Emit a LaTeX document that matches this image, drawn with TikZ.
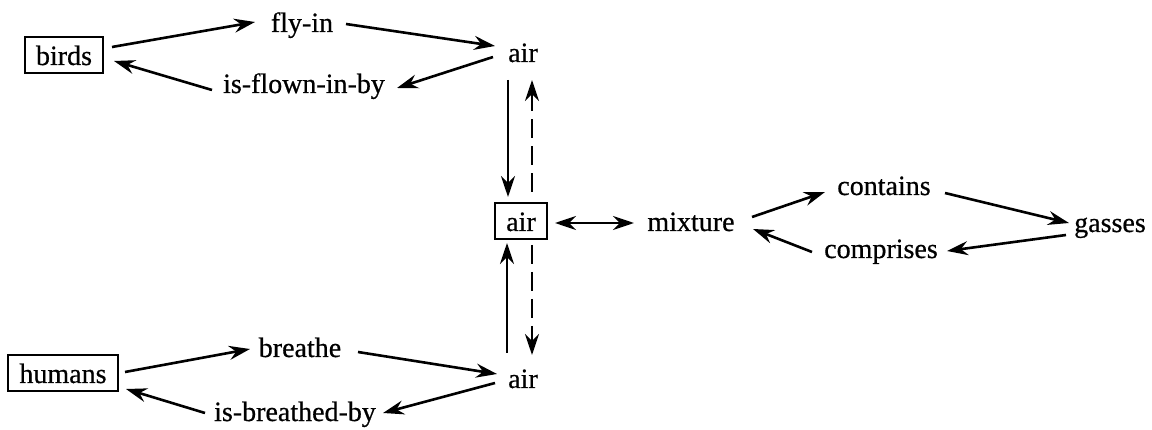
\documentclass[tikz,border=0pt]{standalone}
\usepackage{fontspec}
\setmainfont{Liberation Serif}[FakeBold=0.6]
\usetikzlibrary{arrows.meta,calc}
\tikzset{
  lbl/.style={anchor=base,inner sep=0pt,font=\fontsize{28pt}{32pt}\selectfont},
  boxed/.style={lbl,draw,line width=2pt,inner xsep=11pt,inner ysep=5pt,text height=23pt,text depth=3pt},
  arr/.style={line width=2.6pt,-{Stealth[length=21pt,width=14pt,inset=7pt]}},
  darr/.style={arr,dash pattern=on 19pt off 8pt},
  barr/.style={line width=2.6pt,{Stealth[length=21pt,width=14pt,inset=7pt]}-{Stealth[length=21pt,width=14pt,inset=7pt]}}
}
\begin{document}
\begin{tikzpicture}[x=1pt,y=-1pt]
\useasboundingbox (0,0) rectangle (1152,430);
\fill[white] (0,0) rectangle (1152,430);
% nodes
\node[boxed] (birds) at (64,65) {birds};
\node[lbl] (flyin) at (302,32) {fly-in};
\node[lbl] (airtop) at (523,62) {air};
\node[lbl] (flown) at (304,93) {is-flown-in-by};
\node[boxed] (airbox) at (521,231) {air};
\node[lbl] (mixture) at (691,231) {mixture};
\node[lbl] (contains) at (884,195) {contains};
\node[lbl] (comprises) at (881,258) {comprises};
\node[lbl] (gasses) at (1110,232) {gasses};
\node[boxed] (humans) at (63,383) {humans};
\node[lbl] (breathe) at (300,357) {breathe};
\node[lbl] (airbot) at (523,388) {air};
\node[lbl] (breathed) at (295,421) {is-breathed-by};
% top cycle
\draw[arr] ($(birds.base)+(48,-18)$) -- ($(flyin.base)+(-47,-10)$);
\draw[arr] ($(flyin.base)+(44,-8)$) -- ($(airtop.base)+(-28,-16)$);
\draw[arr] ($(airtop.base)+(-30,-5)$) -- ($(flown.base)+(93,-5)$);
\draw[arr] ($(flown.base)+(-92,-3)$) -- ($(birds.base)+(50,-4)$);
% verticals
\draw[arr] ($(airtop.base)+(-15,18)$) -- ($(airbox.base)+(-13,-34)$);
\draw[darr] ($(airbox.base)+(11,-39)$) -- ($(airtop.base)+(9,18)$);
\draw[arr] ($(airbot.base)+(-16,-35)$) -- ($(airbox.base)+(-14,12)$);
\draw[darr] ($(airbox.base)+(11,14)$) -- ($(airbot.base)+(9,-33)$);
% mixture
\draw[barr] ($(airbox.base)+(34,-8)$) -- ($(mixture.base)+(-57,-8)$);
\draw[arr] ($(mixture.base)+(61,-14)$) -- ($(contains.base)+(-59,-3)$);
\draw[arr] ($(contains.base)+(61,-2)$) -- ($(gasses.base)+(-41,-9)$);
\draw[arr] ($(gasses.base)+(-44,3)$) -- ($(comprises.base)+(66,-7)$);
\draw[arr] ($(comprises.base)+(-69,-6)$) -- ($(mixture.base)+(62,-2)$);
% bottom cycle
\draw[arr] ($(humans.base)+(62,-11)$) -- ($(breathe.base)+(-50,-8)$);
\draw[arr] ($(breathe.base)+(58,-5)$) -- ($(airbot.base)+(-26,-14)$);
\draw[arr] ($(airbot.base)+(-28,-5)$) -- ($(breathed.base)+(88,-8)$);
\draw[arr] ($(breathed.base)+(-90,-8)$) -- ($(humans.base)+(63,6)$);
\end{tikzpicture}
\end{document}
